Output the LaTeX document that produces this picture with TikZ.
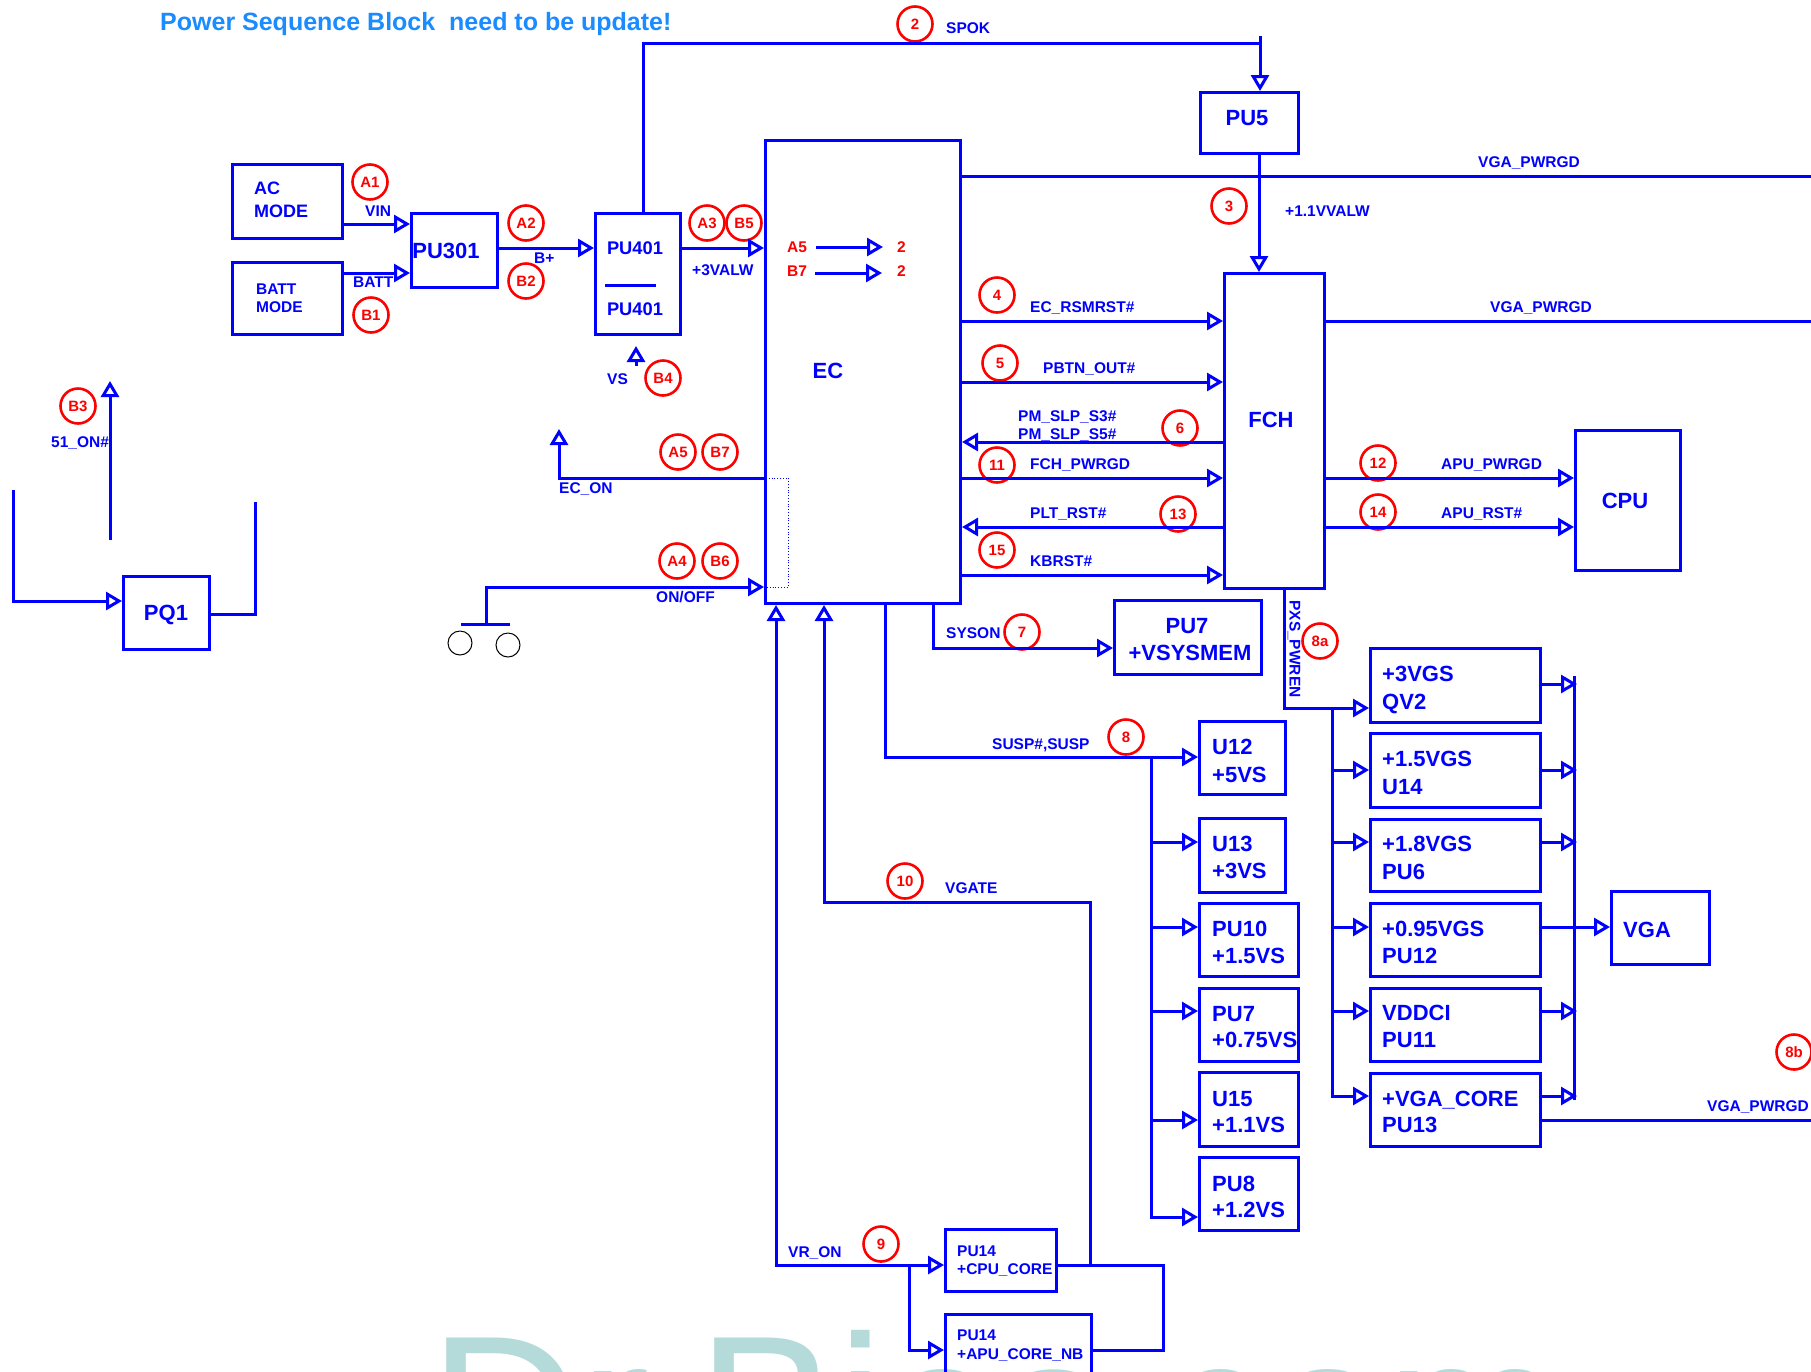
\documentclass[tikz,border=0pt]{standalone}
\usepackage{fontspec}
\setmainfont{Liberation Sans}
\usetikzlibrary{arrows.meta}
\definecolor{blu}{RGB}{0,0,255}
\definecolor{rd}{RGB}{255,0,0}
\definecolor{ttl}{RGB}{26,140,255}
\definecolor{wm}{RGB}{180,218,218}
\newcommand{\fsz}[1]{\fontsize{#1}{#1}\selectfont}
\newcommand{\BX}[5]{\node[boxst, anchor=north west, minimum width={(#4-#2)*1pt}, minimum height={(#5-#3)*1pt}] (#1) at (#2,#3) {};}
\newcommand{\BG}[4]{\node[badge] (#1) at (#2,#3) {#4};}
\begin{document}
\begin{tikzpicture}[x=1pt,y=-1pt,
  >={Triangle[open,length=16pt,width=18pt,line width=3pt]},
  boxst/.style={draw=blu, line width=3pt, inner sep=0pt, rectangle},
  wire/.style={draw=blu, line width=3pt},
  arr/.style={wire, ->},
  sig/.style={inner sep=0pt, anchor=base west, text=blu, font=\bfseries\fsz{15.5}},
  big/.style={inner sep=0pt, anchor=base west, text=blu, font=\bfseries\fsz{22}},
  rtx/.style={inner sep=0pt, anchor=base west, text=rd, font=\bfseries\fsz{15.5}},
  badge/.style={circle, draw=rd, line width=2.6pt, minimum size=35pt, inner sep=0pt, text=rd, font=\bfseries\fsz{15}}
]
\useasboundingbox (0,0) rectangle (1811,1371);
\fill[white] (0,0) rectangle (1811,1371);
\clip (0,0) rectangle (1811,1371);

% watermark
\node[inner sep=0pt, anchor=base west, text=wm, font=\fsz{210}] (wmark) at (429,1482) {Dr.Bios.com};

% title
\node[inner sep=0pt, anchor=base west, text=ttl, font=\bfseries\fsz{25}] (title) at (160,30) {Power Sequence Block~~need to be update!};

% boxes
\BX{acm}{231}{163}{341}{237}
\BX{battm}{231}{261}{341}{333}
\BX{pu301}{410}{212}{496}{286}
\BX{pu401}{594}{212}{679}{333}
\BX{pu5}{1199}{91}{1297}{152}
\BX{ec}{764}{139}{959}{602}
\BX{fch}{1223}{272}{1323}{587}
\BX{cpu}{1574}{429}{1679}{569}
\BX{pq1}{122}{575}{208}{648}
\BX{pu7}{1113}{599}{1260}{673}
\BX{u12}{1198}{720}{1284}{793}
\BX{u13}{1198}{817}{1284}{891}
\BX{pu10}{1198}{902}{1297}{975}
\BX{pu7b}{1198}{987}{1297}{1060}
\BX{u15}{1198}{1071}{1297}{1145}
\BX{pu8}{1198}{1156}{1297}{1229}
\BX{qv2}{1369}{647}{1539}{721}
\BX{u14}{1369}{732}{1539}{806}
\BX{pu6}{1369}{818}{1539}{890}
\BX{pu12}{1369}{902}{1539}{975}
\BX{pu11}{1369}{987}{1539}{1060}
\BX{pu13}{1369}{1072}{1539}{1145}
\BX{vga}{1610}{890}{1708}{963}
\BX{cpc}{944}{1228}{1055}{1290}
\BX{apc}{944}{1313}{1090}{1400}

% box texts
\node[inner sep=0pt, anchor=base west, text=blu, font=\bfseries\fsz{18}] (tac1) at (254,194) {AC};
\node[inner sep=0pt, anchor=base west, text=blu, font=\bfseries\fsz{18}] (tac2) at (254,217) {MODE};
\node[sig] (tbm1) at (256,294) {BATT};
\node[sig] (tbm2) at (256,312) {MODE};
\node[big, anchor=base] (tpu301) at (446,258) {PU301};
\node[inner sep=0pt, anchor=base, text=blu, font=\bfseries\fsz{18.3}] (tpu401a) at (635,254) {PU401};
\node[inner sep=0pt, anchor=base, text=blu, font=\bfseries\fsz{18.3}] (tpu401b) at (635,315) {PU401};
\draw[blu, line width=3pt] (605,285) -- (656,285);
\node[big, anchor=base] (tpu5) at (1247,125) {PU5};
\node[big, anchor=base] (tec) at (828,378) {EC};
\node[big, anchor=base] (tfch) at (1271,427) {FCH};
\node[big, anchor=base] (tcpu) at (1625,508) {CPU};
\node[big, anchor=base] (tpq1) at (166,620) {PQ1};
\node[big, anchor=base] (tpu7a) at (1187,633) {PU7};
\node[big, anchor=base] (tpu7b) at (1190,660) {+VSYSMEM};
\node[big] (tu12a) at (1212,754) {U12};
\node[big] (tu12b) at (1212,782) {+5VS};
\node[big] (tu13a) at (1212,851) {U13};
\node[big] (tu13b) at (1212,878) {+3VS};
\node[big] (tpu10a) at (1212,936) {PU10};
\node[big] (tpu10b) at (1212,963) {+1.5VS};
\node[big] (tpu7ca) at (1212,1021) {PU7};
\node[big] (tpu7cb) at (1212,1047) {+0.75VS};
\node[big] (tu15a) at (1212,1106) {U15};
\node[big] (tu15b) at (1212,1132) {+1.1VS};
\node[big] (tpu8a) at (1212,1191) {PU8};
\node[big] (tpu8b) at (1212,1217) {+1.2VS};
\node[big] (tqv2a) at (1382,681) {+3VGS};
\node[big] (tqv2b) at (1382,709) {QV2};
\node[big] (tu14a) at (1382,766) {+1.5VGS};
\node[big] (tu14b) at (1382,794) {U14};
\node[big] (tpu6a) at (1382,851) {+1.8VGS};
\node[big] (tpu6b) at (1382,879) {PU6};
\node[big] (tpu12a) at (1382,936) {+0.95VGS};
\node[big] (tpu12b) at (1382,963) {PU12};
\node[big] (tpu11a) at (1382,1020) {VDDCI};
\node[big] (tpu11b) at (1382,1047) {PU11};
\node[big] (tpu13a) at (1382,1106) {+VGA\_CORE};
\node[big] (tpu13b) at (1382,1132) {PU13};
\node[big] (tvga) at (1623,937) {VGA};
\node[sig] (tcpca) at (957,1256) {PU14};
\node[sig] (tcpcb) at (957,1274) {+CPU\_CORE};
\node[sig] (tapca) at (957,1340) {PU14};
\node[sig] (tapcb) at (957,1359) {+APU\_CORE\_NB};

% signal labels
\node[sig] (lspok) at (946,33) {SPOK};
\node[sig] (l11v) at (1285,216) {+1.1VVALW};
\node[sig] (lvga1) at (1478,167) {VGA\_PWRGD};
\node[sig] (lvga2) at (1490,312) {VGA\_PWRGD};
\node[sig] (lvin) at (365,216) {VIN};
\node[sig] (lbatt) at (353,287) {BATT};
\node[sig] (lbp) at (534,263) {B+};
\node[sig] (l3v) at (692,275) {+3VALW};
\node[sig] (lvs) at (607,384) {VS};
\node[sig] (l51) at (51,447) {51\_ON\#};
\node[sig] (lecon) at (559,493) {EC\_ON};
\node[sig] (lonoff) at (656,602) {ON/OFF};
\node[sig] (lrsm) at (1030,312) {EC\_RSMRST\#};
\node[sig] (lpbtn) at (1043,373) {PBTN\_OUT\#};
\node[sig] (ls3) at (1018,421) {PM\_SLP\_S3\#};
\node[sig] (ls5) at (1018,439) {PM\_SLP\_S5\#};
\node[sig] (lfpw) at (1030,469) {FCH\_PWRGD};
\node[sig] (lplt) at (1030,518) {PLT\_RST\#};
\node[sig] (lkb) at (1030,566) {KBRST\#};
\node[sig] (lapw) at (1441,469) {APU\_PWRGD};
\node[sig] (lars) at (1441,518) {APU\_RST\#};
\node[sig] (lsys) at (946,638) {SYSON};
\node[sig] (lsusp) at (992,749) {SUSP\#,SUSP};
\node[sig] (lvgate) at (945,893) {VGATE};
\node[sig] (lvron) at (788,1257) {VR\_ON};
\node[sig] (lvga3) at (1707,1111) {VGA\_PWRGD};
\node[sig, anchor=center, rotate=-90] (lpxs) at (1294,649) {PXS\_PWREN};
\node[rtx] (ta5) at (787,252) {A5};
\node[rtx] (tb7) at (787,276) {B7};
\node[rtx] (t2a) at (897,252) {2};
\node[rtx] (t2b) at (897,276) {2};

% badges
\BG{bA1}{370}{182}{A1}
\BG{bA2}{526}{223}{A2}
\BG{bB2}{526}{281}{B2}
\BG{bB1}{371}{315}{B1}
\BG{bA3}{707}{223}{A3}
\BG{bB5}{744}{223}{B5}
\BG{b2}{915}{24}{2}
\BG{b3}{1229}{206}{3}
\BG{bB4}{663}{378}{B4}
\BG{bB3}{78}{406}{B3}
\BG{bA5}{678}{452}{A5}
\BG{bB7}{720}{452}{B7}
\BG{bA4}{677}{561}{A4}
\BG{bB6}{720}{561}{B6}
\BG{b4}{997}{295}{4}
\BG{b5}{1000}{363}{5}
\BG{b6}{1180}{428}{6}
\BG{b11}{997}{465}{11}
\BG{b13}{1178}{514}{13}
\BG{b15}{997}{550}{15}
\BG{b12}{1378}{463}{12}
\BG{b14}{1378}{512}{14}
\BG{b7}{1022}{632}{7}
\BG{b8a}{1320}{641}{8a}
\BG{b8}{1126}{737}{8}
\BG{b10}{905}{881}{10}
\BG{b9}{881}{1244}{9}
\BG{b8b}{1794}{1052}{8b}

% connectors top
\draw[wire] (1260,36) -- (1260,43);
\draw[arr] (pu401.north -| 643,0) -- (643,43) -- (1260,43) -- (pu5.north -| 1260,0);
\draw[arr] (pu5.south -| 1259,0) -- (fch.north -| 1259,0);
\coordinate (r1) at (1811,176);
\coordinate (r2) at (1811,321);
\coordinate (r3) at (1811,1120);
\draw[wire] (ec.east |- r1) -- (r1);
\draw[wire] (fch.east |- r2) -- (r2);
\draw[arr] (acm.east |- 0,224) -- (pu301.west |- 0,224);
\draw[arr] (battm.east |- 0,273) -- (pu301.west |- 0,273);
\draw[arr] (pu301.east |- 0,248) -- (pu401.west |- 0,248);
\draw[arr] (pu401.east |- 0,248) -- (ec.west |- 0,248);
\draw[arr] ([xshift=9pt]ta5.east |- 0,247) -- ([xshift=-14pt]t2a.west |- 0,247);
\draw[arr] ([xshift=8pt]tb7.east |- 0,273) -- ([xshift=-15pt]t2b.west |- 0,273);

% left side
\coordinate (vsb) at (636,366);
\coordinate (vst) at (636,346);
\draw[arr] (vsb) -- (vst);
\coordinate (onb) at (110,540);
\coordinate (ont) at (110,381);
\draw[arr] (onb) -- (ont);
\coordinate (pql) at (13,490);
\draw[arr] (pql) -- (13,601) -- (pq1.west |- 0,601);
\coordinate (pqr) at (255,502);
\draw[wire] (pq1.east |- 0,614) -- (255,614) -- (pqr);
\coordinate (ecn) at (559,429);
\draw[arr] (ec.west |- 0,478) -- (559,478) -- (ecn);
\coordinate (sw) at (486,624);
\draw[wire] (461,624) -- (510,624);
\draw[arr] (sw) -- (486,587) -- (ec.west |- 0,587);
\node[circle, draw=black, line width=1pt, minimum size=24pt, inner sep=0pt] (k1) at (460,643) {};
\node[circle, draw=black, line width=1pt, minimum size=24pt, inner sep=0pt] (k2) at (508,645) {};
\draw[blu, line width=0.8pt, dotted] (ec.west |- 0,478) rectangle (788,587);

% EC <-> FCH
\draw[arr] (ec.east |- 0,321) -- (fch.west |- 0,321);
\draw[arr] (ec.east |- 0,382) -- (fch.west |- 0,382);
\draw[arr] (fch.west |- 0,442) -- (ec.east |- 0,442);
\draw[arr] (ec.east |- 0,478) -- (fch.west |- 0,478);
\draw[arr] (fch.west |- 0,527) -- (ec.east |- 0,527);
\draw[arr] (ec.east |- 0,575) -- (fch.west |- 0,575);
% FCH -> CPU
\draw[arr] (fch.east |- 0,478) -- (cpu.west |- 0,478);
\draw[arr] (fch.east |- 0,527) -- (cpu.west |- 0,527);

% EC bottom
\draw[arr] (ec.south -| 933,0) -- (933,648) -- (pu7.west |- 0,648);
\draw[arr] (ec.south -| 885,0) -- (885,757) -- (u12.west |- 0,757);
\coordinate (bsT) at (1151,757);
\draw[arr] (bsT) -- (1151,1217) -- (pu8.west |- 0,1217);
\foreach \n/\yy in {u13/842, pu10/927, pu7b/1011, u15/1120} \draw[arr] (1151,\yy) -- (\n.west |- 0,\yy);
\coordinate (vgj) at (1090,1265);
\draw[arr] (vgj) -- (1090,902) -- (824,902) -- (ec.south -| 824,0);
\draw[wire] (cpc.east |- 0,1265) -- (1163,1265) -- (1163,1350) -- (apc.east |- 0,1350);
\draw[wire, <->] (ec.south -| 776,0) -- (776,1265) -- (cpc.west |- 0,1265);
\draw[arr] (909,1265) -- (909,1350) -- (apc.west |- 0,1350);

% VGS
\draw[arr] (fch.south -| 1284,0) -- (1284,708) -- (qv2.west |- 0,708);
\draw[arr] (1332,708) -- (1332,1096) -- (pu13.west |- 0,1096);
\foreach \n/\yy in {u14/770, pu6/842, pu12/927, pu11/1011} \draw[arr] (1332,\yy) -- (\n.west |- 0,\yy);
\draw[wire] (1574,676) -- (1574,1100);
\foreach \n/\yy in {qv2/684, u14/770, pu6/842, pu11/1011, pu13/1096} \draw[arr] (\n.east |- 0,\yy) -- (1577,\yy);
\draw[arr] (pu12.east |- 0,927) -- (vga.west |- 0,927);
\draw[wire] (pu13.east |- r3) -- (r3);
\end{tikzpicture}
\end{document}
